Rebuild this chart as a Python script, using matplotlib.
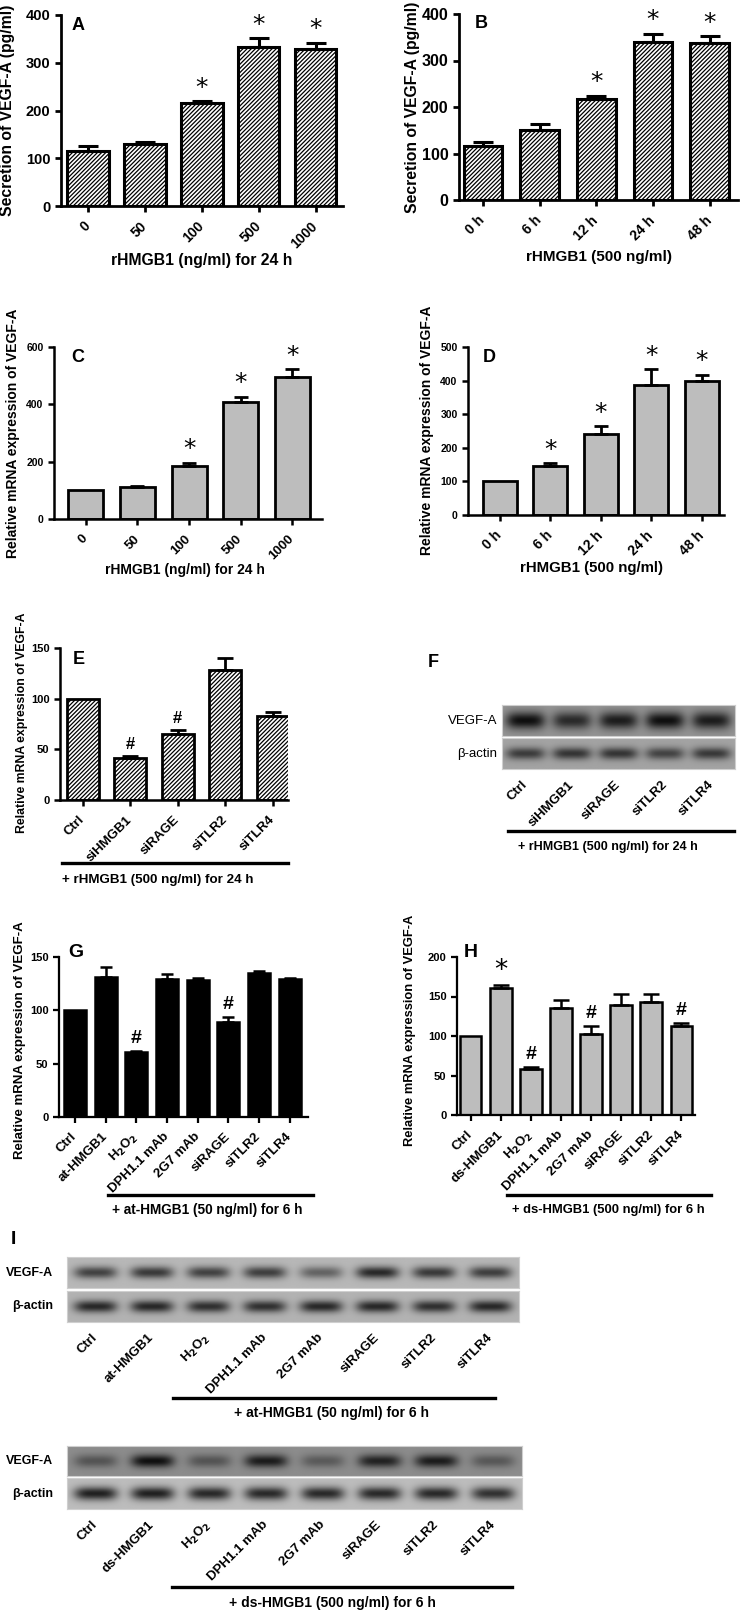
import numpy as np
import matplotlib
matplotlib.use('Agg')
import matplotlib.pyplot as plt
from matplotlib.lines import Line2D

plt.rcParams['font.family'] = ['Liberation Sans', 'DejaVu Sans']
plt.rcParams['font.weight'] = 'bold'
plt.rcParams['hatch.linewidth'] = 0.9
plt.rcParams['mathtext.default'] = 'bf'

# ---- data ----
A_doses = ['0', '50', '100', '500', '1000']
A_vals = [116, 129, 215, 332, 329]
A_err = [10, 4, 5, 20, 13]
A_marks = ['', '', '*', '*', '*']

B_times = ['0 h', '6 h', '12 h', '24 h', '48 h']
B_vals = [116, 150, 218, 339, 338]
B_err = [9, 13, 6, 19, 14]
B_marks = ['', '', '*', '*', '*']

C_vals = [100, 111, 186, 407, 494]
C_err = [0, 5, 10, 19, 28]
C_marks = ['', '', '*', '*', '*']

D_vals = [100, 145, 240, 386, 399]
D_err = [0, 9, 25, 48, 18]
D_marks = ['', '*', '*', '*', '*']

E_cats = ['Ctrl', 'siHMGB1', 'siRAGE', 'siTLR2', 'siTLR4']
E_vals = [100, 41, 65, 128, 83]
E_err = [0, 2.5, 4, 12, 4]
E_marks = ['', '#', '#', '', '']

F_vegf = [1.0, 0.8, 0.9, 1.0, 0.9]
F_actin = [0.7, 0.75, 0.75, 0.65, 0.72]

G_cats = ['Ctrl', 'at-HMGB1', 'H$_2$O$_2$', 'DPH1.1 mAb', '2G7 mAb', 'siRAGE', 'siTLR2', 'siTLR4']
G_vals = [100, 131, 60.5, 129.5, 128.5, 89.5, 135, 129]
G_err = [0, 9.5, 1.5, 5, 2, 4.5, 1.5, 1]
G_marks = ['', '', '#', '', '', '#', '', '']

H_cats = ['Ctrl', 'ds-HMGB1', 'H$_2$O$_2$', 'DPH1.1 mAb', '2G7 mAb', 'siRAGE', 'siTLR2', 'siTLR4']
H_vals = [100, 161, 58, 136, 103, 139, 143, 113]
H_err = [0, 3, 3, 9, 10, 14, 10, 3]
H_marks = ['', '*', '#', '', '#', '', '', '#']

I_at_vegf = [0.7, 0.75, 0.7, 0.72, 0.5, 0.85, 0.75, 0.72]
I_at_actin = [0.85, 0.85, 0.8, 0.8, 0.85, 0.85, 0.8, 0.85]
I_ds_vegf = [0.45, 1.0, 0.45, 0.9, 0.4, 0.85, 0.9, 0.42]
I_ds_actin = [0.9, 0.9, 0.85, 0.85, 0.85, 0.85, 0.85, 0.8]

W, H = 742, 1611
fig = plt.figure(figsize=(W / 100, H / 100), dpi=100)


def px_ax(x0, y0, x1, y1):
    return fig.add_axes([x0 / W, 1 - y1 / H, (x1 - x0) / W, (y1 - y0) / H])


def ftext(x, y, s, **kw):
    fig.text(x / W, 1 - y / H, s, **kw)


def fline(x0, x1, y, lw=2.4):
    fig.add_artist(Line2D([x0 / W, x1 / W], [1 - y / H, 1 - y / H], color='k', lw=lw,
                          transform=fig.transFigure))


def bar_panel(rect, labels, vals, errs, marks, ylim, yticks, xlim, width, kind,
              ytick_fs, xtick_fs, cap, lw=2.0, mark_fs=13):
    ax = px_ax(*rect)
    x = np.arange(len(vals))
    if kind == 'hatch':
        ax.bar(x, vals, width, color='white', edgecolor='black', hatch='////////', lw=lw, zorder=2)
    elif kind == 'gray':
        ax.bar(x, vals, width, color='#bdbdbd', edgecolor='black', lw=lw, zorder=2)
    else:
        ax.bar(x, vals, width, color='black', edgecolor='black', lw=lw, zorder=2)
    errs = np.array(errs, dtype=float)
    vals = np.array(vals, dtype=float)
    m = errs > 0
    ax.errorbar(x[m], vals[m], yerr=[np.zeros(m.sum()), errs[m]], fmt='none', ecolor='black',
                elinewidth=lw, capsize=cap, capthick=lw, zorder=3)
    for i, mk in enumerate(marks):
        if mk == '*':
            ax.annotate('*', (i, vals[i] + errs[i]), xytext=(0, 1), textcoords='offset points',
                        ha='center', va='bottom', fontsize=mark_fs + 5, fontweight='normal',
                        family='DejaVu Sans')
        elif mk == '#':
            ax.annotate('#', (i, vals[i] + errs[i]), xytext=(0, 3), textcoords='offset points',
                        ha='center', va='bottom', fontsize=mark_fs, fontweight='bold')
    ax.set_ylim(*ylim)
    ax.set_yticks(yticks)
    ax.set_xlim(*xlim)
    ax.set_xticks(x)
    ax.set_xticklabels(labels, rotation=45, ha='right', va='center', rotation_mode='anchor',
                       fontsize=xtick_fs)
    for t in ax.get_yticklabels():
        t.set_fontsize(ytick_fs)
    for s in ['top', 'right']:
        ax.spines[s].set_visible(False)
    for s in ['left', 'bottom']:
        ax.spines[s].set_linewidth(lw * 0.9)
    ax.tick_params(width=lw * 0.9, length=4, direction='out')
    ax.tick_params(axis='x', pad=9)
    return ax


def blot(rect, levels, bg, bw, bh, label, lab_x, lab_fs, lab_w, lanes=None, lane_fs=8.5):
    ax = px_ax(*rect)
    n = len(levels)
    xs = np.linspace(-0.5, n - 0.5, 60 * n)
    ys = np.linspace(-0.5, 0.5, 40)
    X, Y = np.meshgrid(xs, ys)
    img = np.full(X.shape, bg)
    for i, lv in enumerate(levels):
        band = np.exp(-np.abs((X - i) / bw) ** 4 - (Y / bh) ** 2)
        img = img - (bg - 0.06) * lv * band
    ax.imshow(img, cmap='gray', vmin=0, vmax=1, extent=(-0.5, n - 0.5, -0.5, 0.5),
              aspect='auto', interpolation='bilinear')
    for s in ax.spines.values():
        s.set_color('#cfcfcf')
    ax.set_yticks([])
    if lanes is None:
        ax.set_xticks([])
    else:
        ax.set_xticks(range(n))
        ax.set_xticklabels(lanes, rotation=45, ha='right', va='center', rotation_mode='anchor',
                           fontsize=lane_fs)
        ax.tick_params(axis='x', length=0, pad=10)
    y_mid = (rect[1] + rect[3]) / 2
    ftext(lab_x, y_mid, label, ha='right', va='center', fontsize=lab_fs, fontweight=lab_w)
    return ax


# ---- A ----
bar_panel((61, 15, 343, 206), A_doses, A_vals, A_err, A_marks, (0, 400), range(0, 401, 100),
          (-0.47, 4.48), 0.73, 'hatch', 10.5, 10, 7, lw=2.2)
ftext(8, 110, 'Secretion of VEGF-A (pg/ml)', rotation=90, ha='center', va='center', fontsize=11.3)
ftext(202, 260, 'rHMGB1 (ng/ml) for 24 h', ha='center', va='center', fontsize=11.3)
ftext(78, 25, 'A', ha='center', va='center', fontsize=13)

# ---- B ----
bar_panel((459, 14, 738, 200), B_times, B_vals, B_err, B_marks, (0, 400), range(0, 401, 100),
          (-0.42, 4.5), 0.68, 'hatch', 11.5, 10, 7, lw=2.2)
ftext(413, 107, 'Secretion of VEGF-A (pg/ml)', rotation=90, ha='center', va='center', fontsize=11.3)
ftext(599, 257, 'rHMGB1 (500 ng/ml)', ha='center', va='center', fontsize=11)
ftext(481, 23, 'B', ha='center', va='center', fontsize=13)

# ---- C ----
bar_panel((54, 347, 322, 519), A_doses, C_vals, C_err, C_marks, (0, 600), range(0, 601, 200),
          (-0.62, 4.58), 0.68, 'gray', 7.5, 9.5, 5, lw=2.0)
ftext(13, 433, 'Relative mRNA expression of VEGF-A', rotation=90, ha='center', va='center', fontsize=10)
ftext(185, 570, 'rHMGB1 (ng/ml) for 24 h', ha='center', va='center', fontsize=10)
ftext(78, 357, 'C', ha='center', va='center', fontsize=13)

# ---- D ----
bar_panel((468, 347, 724, 515), B_times, D_vals, D_err, D_marks, (0, 500), range(0, 501, 100),
          (-0.63, 4.44), 0.67, 'gray', 7.5, 10, 5, lw=2.0)
ftext(427, 430, 'Relative mRNA expression of VEGF-A', rotation=90, ha='center', va='center', fontsize=10)
ftext(591, 568, 'rHMGB1 (500 ng/ml)', ha='center', va='center', fontsize=10.8)
ftext(489, 357, 'D', ha='center', va='center', fontsize=13)

# ---- E ----
bar_panel((60, 648, 288, 800), E_cats, E_vals, E_err, E_marks, (0, 150), range(0, 151, 50),
          (-0.48, 4.32), 0.67, 'hatch', 8, 9.5, 6, lw=2.0, mark_fs=12)
ftext(22, 723, 'Relative mRNA expression of VEGF-A', rotation=90, ha='center', va='center', fontsize=8.8)
ftext(79, 660, 'E', ha='center', va='center', fontsize=13)
fline(62, 288, 863)
ftext(62, 880, '+ rHMGB1 (500 ng/ml) for 24 h', ha='left', va='center', fontsize=9.6)

# ---- F ----
ftext(433, 663, 'F', ha='center', va='center', fontsize=13)
blot((502, 705, 735, 736), F_vegf, 0.58, 0.42, 0.28, 'VEGF-A', 497, 9.5, 'normal')
blot((502, 738, 735, 769), F_actin, 0.64, 0.42, 0.2, '\u03b2-actin', 497, 9.5, 'normal',
     lanes=E_cats, lane_fs=9.5)
fline(508, 734, 831)
ftext(518, 847, '+ rHMGB1 (500 ng/ml) for 24 h', ha='left', va='center', fontsize=9)

# ---- G ----
bar_panel((59, 957, 308, 1117), G_cats, G_vals, G_err, G_marks, (0, 150), range(0, 151, 50),
          (-0.52, 7.6), 0.72, 'black', 8, 9.5, 4.5, lw=1.8, mark_fs=14)
ftext(20, 1040, 'Relative mRNA expression of VEGF-A', rotation=90, ha='center', va='center', fontsize=9.5)
ftext(76, 952, 'G', ha='center', va='center', fontsize=14)
fline(108, 313, 1195)
ftext(207, 1210, '+ at-HMGB1 (50 ng/ml) for 6 h', ha='center', va='center', fontsize=9.8)

# ---- H ----
bar_panel((457, 957, 695, 1115), H_cats, H_vals, H_err, H_marks, (0, 200), range(0, 201, 50),
          (-0.45, 7.45), 0.72, 'gray', 8, 9.5, 5.5, lw=1.8, mark_fs=14)
ftext(410, 1030, 'Relative mRNA expression of VEGF-A', rotation=90, ha='center', va='center', fontsize=9.3)
ftext(471, 952, 'H', ha='center', va='center', fontsize=14)
fline(507, 711, 1195)
ftext(608, 1210, '+ ds-HMGB1 (500 ng/ml) for 6 h', ha='center', va='center', fontsize=9.4)

# ---- I ----
ftext(13, 1240, 'I', ha='center', va='center', fontsize=14)
blot((67, 1257, 519, 1288), I_at_vegf, 0.72, 0.38, 0.2, 'VEGF-A', 53, 9, 'bold')
blot((67, 1291, 519, 1322), I_at_actin, 0.7, 0.38, 0.2, '\u03b2-actin', 53, 9, 'bold',
     lanes=G_cats, lane_fs=9.5)
fline(173, 495, 1398)
ftext(332, 1413, '+ at-HMGB1 (50 ng/ml) for 6 h', ha='center', va='center', fontsize=10)

blot((67, 1446, 522, 1476), I_ds_vegf, 0.55, 0.38, 0.22, 'VEGF-A', 53, 9, 'bold')
blot((67, 1478, 522, 1509), I_ds_actin, 0.74, 0.38, 0.22, '\u03b2-actin', 53, 9, 'bold',
     lanes=H_cats, lane_fs=9.5)
fline(172, 512, 1587)
ftext(332, 1603, '+ ds-HMGB1 (500 ng/ml) for 6 h', ha='center', va='center', fontsize=10)

fig.savefig('out.png', dpi=100, facecolor='white')
